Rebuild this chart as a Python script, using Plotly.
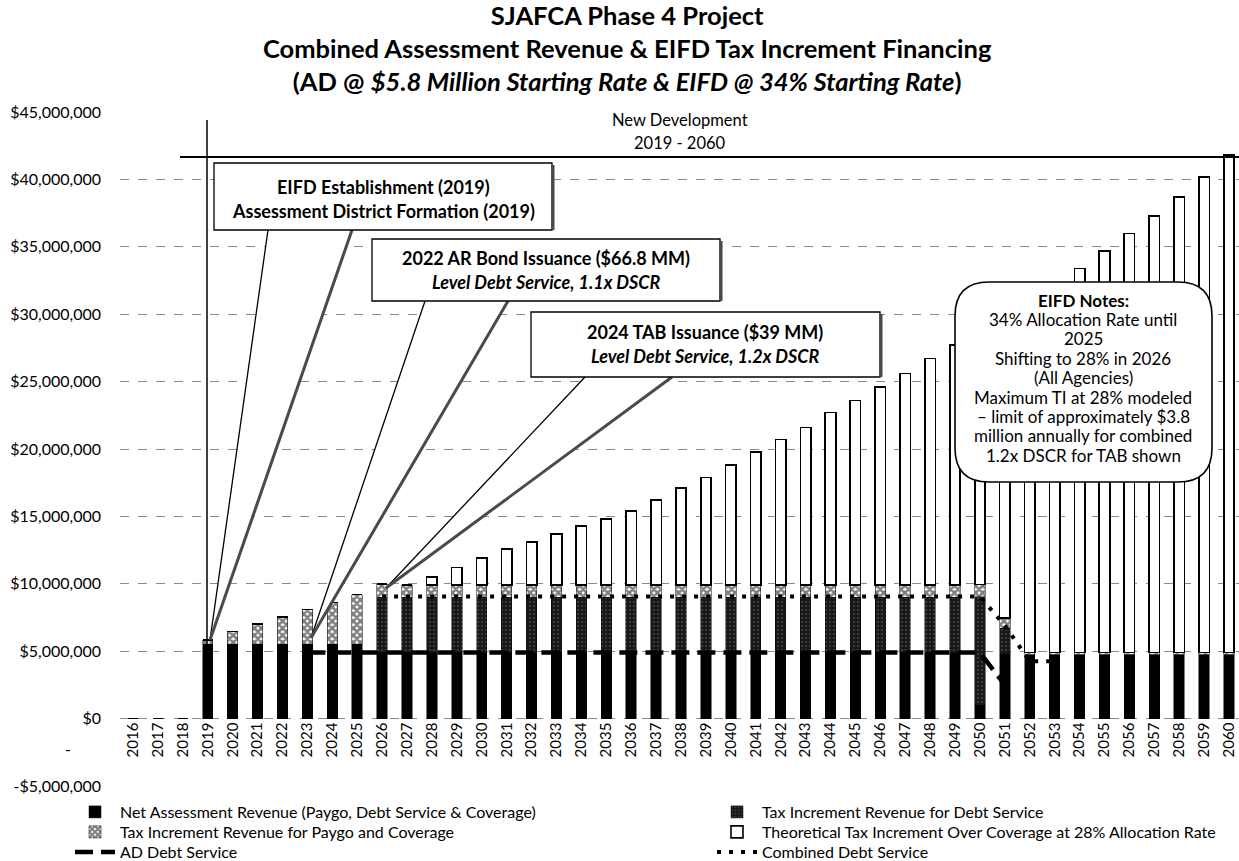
import plotly.graph_objects as go

# ---------------- data (values in $ millions) ----------------
years = list(range(2016, 2061))

net_assessment_m = [0, 0, 0, 5.5, 5.5, 5.5, 5.5, 5.5, 5.5, 5.5,
                    4.9, 4.9, 4.9, 4.9, 4.9, 4.9, 4.9, 4.9, 4.9, 4.9, 4.9, 4.9,
                    4.9, 4.9, 4.9, 4.9, 4.9, 4.9, 4.9, 4.9, 4.9, 4.9, 4.9, 4.9,
                    1.0, 4.8,
                    4.75, 4.75, 4.75, 4.75, 4.75, 4.75, 4.75, 4.75, 4.75]

ti_debt_service_m = [0, 0, 0, 0, 0, 0, 0, 0, 0, 0,
                     4.1, 4.1, 4.1, 4.1, 4.1, 4.1, 4.1, 4.1, 4.1, 4.1, 4.1, 4.1,
                     4.1, 4.1, 4.1, 4.1, 4.1, 4.1, 4.1, 4.1, 4.1, 4.1, 4.1, 4.1,
                     8.05, 1.9,
                     0, 0, 0, 0, 0, 0, 0, 0, 0]

ti_paygo_m = [0, 0, 0, 0.35, 0.95, 1.5, 2.05, 2.6, 3.1, 3.7,
              1.0, 0.9, 0.9, 0.9, 0.9, 0.9, 0.9, 0.9, 0.9, 0.9, 0.9, 0.9,
              0.9, 0.9, 0.9, 0.9, 0.9, 0.9, 0.9, 0.9, 0.9, 0.9, 0.9, 0.9,
              0.9, 0.75,
              0.15, 0.15, 0.15, 0.15, 0.15, 0.15, 0.15, 0.15, 0.15]

theoretical_ti_m = [0, 0, 0, 0, 0, 0, 0, 0, 0, 0, 0, 0,
                    0.6, 1.3, 2.0, 2.7, 3.2, 3.8, 4.4, 4.9, 5.5, 6.3, 7.2, 8.0,
                    8.9, 9.9, 10.8, 11.7, 12.8, 13.7, 14.7, 15.7, 16.8, 17.8,
                    18.85, 22.45,
                    26.2, 27.3, 28.5, 29.8, 31.1, 32.4, 33.8, 35.3, 36.9]

ad_debt_service_m = [None, None, None, None, None, None, None,
                     4.9, 4.9, 4.9, 4.9, 4.9, 4.9, 4.9, 4.9, 4.9, 4.9, 4.9, 4.9, 4.9, 4.9,
                     4.9, 4.9, 4.9, 4.9, 4.9, 4.9, 4.9, 4.9, 4.9, 4.9, 4.9, 4.9, 4.9, 4.9,
                     2.5,
                     None, None, None, None, None, None, None, None, None]

combined_debt_service_m = [None, None, None, None, None, None, None, None, None, None,
                           9.05, 9.05, 9.05, 9.05, 9.05, 9.05, 9.05, 9.05, 9.05, 9.05,
                           9.05, 9.05, 9.05, 9.05, 9.05, 9.05, 9.05, 9.05, 9.05, 9.05,
                           9.05, 9.05, 9.05, 9.05, 9.05,
                           6.9, 4.25, 4.25,
                           None, None, None, None, None, None, None]

y_tick_values_m = [-5, 0, 5, 10, 15, 20, 25, 30, 35, 40, 45]
y_tick_labels = ["-$5,000,000", "$0", "$5,000,000", "$10,000,000", "$15,000,000",
                 "$20,000,000", "$25,000,000", "$30,000,000", "$35,000,000",
                 "$40,000,000", "$45,000,000"]

M = 1_000_000


def dollars(vals):
    return [None if v is None else v * M for v in vals]


FONT = "Lato, 'Open Sans', sans-serif"
W, H = 1239, 861
ML, MR, MT, MB = 120, 0, 112, 75
X_RANGE = [2015.478, 2060.40]
Y_RANGE = [-5 * M, 45 * M]
PW, PH = W - ML - MR, H - MT - MB


# pixel -> data / paper helpers (for annotation placement only)
def X(px):
    return X_RANGE[0] + (px - ML) / PW * (X_RANGE[1] - X_RANGE[0])


def Y(py):
    return Y_RANGE[1] - (py - MT) / PH * (Y_RANGE[1] - Y_RANGE[0])


def PX(px):
    return (px - ML) / PW


def PY(py):
    return (H - MB - py) / PH


fig = go.Figure()

BW = 0.42
fig.add_trace(go.Bar(
    x=years, y=dollars(net_assessment_m), width=BW, legend="legend",
    name="Net Assessment Revenue (Paygo, Debt Service & Coverage)",
    marker=dict(color="#000000", line=dict(color="#000000", width=0.5))))
fig.add_trace(go.Bar(
    x=years, y=dollars(ti_debt_service_m), width=BW, legend="legend2",
    name="Tax Increment Revenue for Debt Service",
    marker=dict(color="#181818", line=dict(color="#000000", width=0.5),
                pattern=dict(shape=".", fgcolor="#707070", bgcolor="#181818",
                             size=4, solidity=0.22))))
fig.add_trace(go.Bar(
    x=years, y=dollars(ti_paygo_m), width=BW, legend="legend3",
    name="Tax Increment Revenue for Paygo and Coverage",
    marker=dict(color="#ffffff", line=dict(color="#000000", width=0.5),
                pattern=dict(shape="x", fgcolor="#000000", bgcolor="#ffffff",
                             size=5, solidity=0.75))))
fig.add_trace(go.Bar(
    x=years, y=dollars(theoretical_ti_m), width=BW, legend="legend4",
    name="Theoretical Tax Increment Over Coverage at 28% Allocation Rate",
    marker=dict(color="#ffffff", line=dict(color="#000000", width=1.6))))
fig.add_trace(go.Scatter(
    x=years, y=dollars(ad_debt_service_m), mode="lines", legend="legend5",
    name="AD Debt Service",
    line=dict(color="#000000", width=4.5, dash="18px,8px")))
fig.add_trace(go.Scatter(
    x=years, y=dollars(combined_debt_service_m), mode="lines", legend="legend6",
    name="Combined Debt Service",
    line=dict(color="#000000", width=4, dash="4px,8px")))

shapes = []
# New development bracket
shapes.append(dict(type="line", xref="x", yref="y", x0=X(207), x1=X(207),
                   y0=Y(120), y1=Y(713), line=dict(color="black", width=1.5)))
shapes.append(dict(type="line", xref="x", yref="y", x0=X(180), x1=X(1239),
                   y0=Y(157), y1=Y(157), line=dict(color="black", width=2)))


def wedge(b1, b2, tip):
    pts = [b1, tip, b2]
    path = "M {} {} L {} {} L {} {} Z".format(
        X(pts[0][0]), Y(pts[0][1]), X(pts[1][0]), Y(pts[1][1]), X(pts[2][0]), Y(pts[2][1]))
    shapes.append(dict(type="path", xref="x", yref="y", path=path,
                       fillcolor="white", line=dict(width=0), layer="above"))
    shapes.append(dict(type="line", xref="x", yref="y", x0=X(b1[0]), y0=Y(b1[1]),
                       x1=X(tip[0]), y1=Y(tip[1]), line=dict(color="black", width=1.3)))
    shapes.append(dict(type="line", xref="x", yref="y", x0=X(b2[0]), y0=Y(b2[1]),
                       x1=X(tip[0]), y1=Y(tip[1]), line=dict(color="#4a4a4a", width=3)))


def box(x0, y0, x1, y1):
    shapes.append(dict(type="rect", xref="x", yref="y", x0=X(x0), x1=X(x1),
                       y0=Y(y0), y1=Y(y1), fillcolor="white",
                       line=dict(color="black", width=1.3), layer="above"))
    shapes.append(dict(type="line", xref="x", yref="y", x0=X(x1 + 1), x1=X(x1 + 1),
                       y0=Y(y0 + 2), y1=Y(y1), line=dict(color="#4a4a4a", width=3)))


wedge((268, 230), (352, 230), (210, 640))
box(214, 163, 552, 230)
wedge((425, 301), (508, 301), (311, 638))
box(372, 239, 720, 301)
wedge((585, 377), (672, 377), (386, 588))
box(531, 312, 880, 377)

# rounded EIFD notes box
rx0, ry0, rx1, ry1, r = 955, 282, 1212, 482, 34
pts_path = (
    f"M {X(rx0 + r)} {Y(ry0)} L {X(rx1 - r)} {Y(ry0)} "
    f"Q {X(rx1)} {Y(ry0)} {X(rx1)} {Y(ry0 + r)} L {X(rx1)} {Y(ry1 - r)} "
    f"Q {X(rx1)} {Y(ry1)} {X(rx1 - r)} {Y(ry1)} L {X(rx0 + r)} {Y(ry1)} "
    f"Q {X(rx0)} {Y(ry1)} {X(rx0)} {Y(ry1 - r)} L {X(rx0)} {Y(ry0 + r)} "
    f"Q {X(rx0)} {Y(ry0)} {X(rx0 + r)} {Y(ry0)} Z"
)
shapes.append(dict(type="path", xref="x", yref="y", path=pts_path, fillcolor="white",
                   line=dict(color="black", width=1.6), layer="above"))

annotations = []


def note(px, py, text, size=16, family=FONT):
    annotations.append(dict(x=PX(px), y=PY(py), xref="paper", yref="paper", text=text,
                            showarrow=False, font=dict(family=family, size=size, color="black"),
                            align="center", xanchor="center", yanchor="middle"))


# title (three lines in one block)
note(627, 48,
     "<b>SJAFCA Phase 4 Project</b><br>"
     "<b>Combined Assessment Revenue &amp; EIFD Tax Increment Financing</b><br>"
     "<b>(AD @ <i>$5.8 Million Starting Rate &amp; EIFD @ 34% Starting Rate</i>)</b>", size=25.5)

note(680, 120, "New Development", size=16.5)
note(680, 143, "2019 - 2060", size=16.5)

note(383, 187, "<b>EIFD Establishment (2019)</b>", size=18)
note(383, 211, "<b>Assessment District Formation (2019)</b>", size=18)
note(546, 258, "<b>2022 AR Bond Issuance ($66.8 MM)</b>", size=18)
note(546, 282, "<b><i>Level Debt Service, 1.1x DSCR</i></b>", size=18)
note(705, 332, "<b>2024 TAB Issuance ($39 MM)</b>", size=18)
note(705, 356, "<b><i>Level Debt Service, 1.2x DSCR</i></b>", size=18)

eifd_lines = ["<b>EIFD Notes:</b>", "34% Allocation Rate until", "2025",
              "Shifting to 28% in 2026", "(All Agencies)", "Maximum TI at 28% modeled",
              "– limit of approximately $3.8", "million annually for combined",
              "1.2x DSCR for TAB shown"]
for i, t in enumerate(eifd_lines):
    note(1083, 300 + 19.4 * i, t, size=17)

# stray "-" label of the value axis
note(68, 748, "-", size=16)


def legend_at(px, py):
    return dict(orientation="v", xref="container", yref="container",
                x=px / W, y=1 - py / H, xanchor="left", yanchor="middle",
                font=dict(family=FONT, size=16), itemwidth=40,
                bgcolor="rgba(0,0,0,0)", borderwidth=0)


fig.update_layout(
    width=W, height=H,
    margin=dict(l=ML, r=MR, t=MT, b=MB, autoexpand=False),
    paper_bgcolor="white", plot_bgcolor="white",
    barmode="stack", bargap=0.5,
    font=dict(family=FONT, size=15, color="black"),
    xaxis=dict(range=X_RANGE, anchor="free", position=0.1,
               tickmode="array", tickvals=years, ticktext=[str(y) for y in years],
               tickangle=-90, tickfont=dict(family=FONT, size=15),
               showgrid=False, zeroline=False, showline=False, ticks="",
               ticklabeloverflow="allow", automargin=False),
    yaxis=dict(range=Y_RANGE, tickmode="array", tickvals=[v * M for v in y_tick_values_m],
               ticktext=y_tick_labels, tickfont=dict(family=FONT, size=16),
               showgrid=True, gridcolor="#8a8a8a", griddash="dash", gridwidth=1,
               zeroline=False, showline=False, ticks="", ticklabelstandoff=18,
               automargin=False),
    showlegend=True,
    legend=legend_at(70, 812),
    legend2=legend_at(712, 812),
    legend3=legend_at(70, 832),
    legend4=legend_at(712, 832),
    legend5=legend_at(70, 852),
    legend6=legend_at(712, 852),
    shapes=shapes, annotations=annotations,
    hovermode=False,
)

fig.write_html("out.html", config={"displayModeBar": False},
               post_script="document.body.style.margin='0px';document.body.style.overflow='hidden';")
